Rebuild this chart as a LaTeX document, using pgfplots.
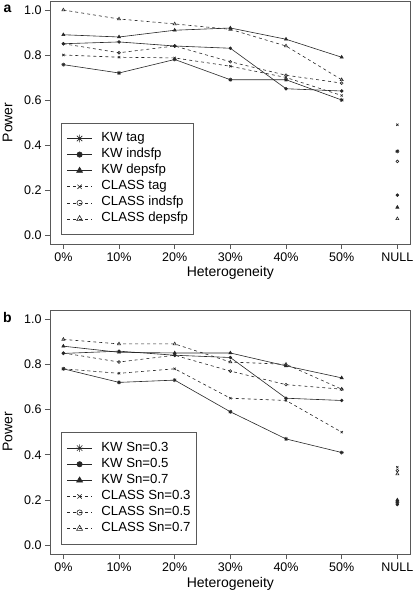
\documentclass[border=0pt]{standalone}
\usepackage{pgfplots}
\pgfplotsset{compat=1.18}
\usepackage{fontspec}
\setmainfont{Liberation Sans}

\pgfdeclareplotmark{rstar}{%
  \pgfpathmoveto{\pgfqpoint{-\pgfplotmarksize}{0pt}}\pgfpathlineto{\pgfqpoint{\pgfplotmarksize}{0pt}}%
  \pgfpathmoveto{\pgfqpoint{0pt}{-\pgfplotmarksize}}\pgfpathlineto{\pgfqpoint{0pt}{\pgfplotmarksize}}%
  \pgfpathmoveto{\pgfqpoint{-.707\pgfplotmarksize}{-.707\pgfplotmarksize}}\pgfpathlineto{\pgfqpoint{.707\pgfplotmarksize}{.707\pgfplotmarksize}}%
  \pgfpathmoveto{\pgfqpoint{-.707\pgfplotmarksize}{.707\pgfplotmarksize}}\pgfpathlineto{\pgfqpoint{.707\pgfplotmarksize}{-.707\pgfplotmarksize}}%
  \pgfusepathqstroke
}

\pgfplotsset{
  panel/.style={
    scale only axis, width=360.7pt,
    xmin=-0.24, xmax=6.24, ymin=-0.04, ymax=1.04,
    xtick={0,1,2,3,4,5,6},
    xticklabels={0\%,10\%,20\%,30\%,40\%,50\%,NULL},
    ytick={0,0.2,0.4,0.6,0.8,1},
    yticklabels={0.0,0.2,0.4,0.6,0.8,1.0},
    tick pos=left, tick align=outside, major tick length=5pt,
    axis line style={black!65, line width=0.6pt},
    tick style={black!65, line width=0.6pt},
    ticklabel style={font=\fontsize{12.5}{13}\selectfont},
    unbounded coords=jump,
    ylabel={Power}, xlabel={Heterogeneity},
    every axis y label/.style={at={(axis description cs:-0.1178,0.5)}, rotate=90, anchor=center,
      font=\fontsize{14}{15}\selectfont},
    legend cell align=left,
    legend style={at={(axis description cs:0.0305,0.4992)}, anchor=north west,
      draw=black!65, line width=0.6pt, font=\fontsize{13.2}{13.2}\selectfont,
      inner xsep=5.5pt, inner ysep=9pt, row sep=3.1pt, column sep=0pt,
      nodes={inner sep=0pt, text height=9.5pt, text depth=3.5pt},
      /tikz/every odd column/.style={column sep=9pt}},
    legend image code/.code={\draw[##1, /tikz/every mark/.append style={scale=1.9}, mark repeat=2, mark phase=2]
      plot coordinates {(0pt,0pt) (12.5pt,0pt) (25pt,0pt)};},
  },
  kw/.style={black!85, line width=0.6pt, solid},
  cls/.style={black!85, line width=0.6pt, dash pattern=on 3pt off 3pt, mark options={solid}},
}

\begin{document}
\begin{tikzpicture}
\useasboundingbox (0,0) rectangle (415pt,599pt);
\node[font=\fontsize{14}{15}\selectfont\bfseries] at (7.5pt,590pt) {a};
\node[font=\fontsize{14}{15}\selectfont\bfseries] at (7.5pt,281pt) {b};

\begin{axis}[panel, at={(50pt,355pt)}, anchor=south west, height=243pt,
  every axis x label/.style={at={(axis description cs:0.5,-0.1346)}, anchor=base,
    font=\fontsize{14}{15}\selectfont}]
\addplot[kw, mark=rstar, mark size=2pt] coordinates {(0,0.757)(1,0.72)(2,0.78)(3,0.69)(4,0.69)(5,0.60)(5.5,nan)(6,0.372)};
\addlegendentry{KW tag}
\addplot[kw, mark=*, mark size=1.4pt] coordinates {(0,0.85)(1,0.858)(2,0.84)(3,0.83)(4,0.65)(5,0.64)(5.5,nan)(6,0.177)};
\addlegendentry{KW indsfp}
\addplot[kw, mark=triangle*, mark size=1.8pt] coordinates {(0,0.89)(1,0.88)(2,0.91)(3,0.92)(4,0.87)(5,0.79)(5.5,nan)(6,0.123)};
\addlegendentry{KW depsfp}
\addplot[cls, mark=x, mark size=1.6pt] coordinates {(0,0.80)(1,0.79)(2,0.787)(3,0.75)(4,0.70)(5,0.62)(5.5,nan)(6,0.49)};
\addlegendentry{CLASS tag}
\addplot[cls, mark=o, mark size=1.4pt] coordinates {(0,0.85)(1,0.81)(2,0.84)(3,0.77)(4,0.71)(5,0.675)(5.5,nan)(6,0.327)};
\addlegendentry{CLASS indsfp}
\addplot[cls, mark=triangle, mark size=1.8pt] coordinates {(0,1.00)(1,0.96)(2,0.938)(3,0.914)(4,0.84)(5,0.69)(5.5,nan)(6,0.072)};
\addlegendentry{CLASS depsfp}
\end{axis}

\begin{axis}[panel, at={(50pt,44.7pt)}, anchor=south west, height=244.3pt,
  every axis x label/.style={at={(axis description cs:0.5,-0.1339)}, anchor=base,
    font=\fontsize{14}{15}\selectfont}]
\addplot[kw, mark=rstar, mark size=2pt] coordinates {(0,0.78)(1,0.72)(2,0.73)(3,0.59)(4,0.47)(5,0.41)(5.5,nan)(6,0.19)};
\addlegendentry{KW Sn=0.3}
\addplot[kw, mark=*, mark size=1.4pt] coordinates {(0,0.848)(1,0.858)(2,0.84)(3,0.83)(4,0.65)(5,0.64)(5.5,nan)(6,0.18)};
\addlegendentry{KW Sn=0.5}
\addplot[kw, mark=triangle*, mark size=1.8pt] coordinates {(0,0.88)(1,0.853)(2,0.85)(3,0.85)(4,0.793)(5,0.74)(5.5,nan)(6,0.20)};
\addlegendentry{KW Sn=0.7}
\addplot[cls, mark=x, mark size=1.6pt] coordinates {(0,0.78)(1,0.76)(2,0.78)(3,0.65)(4,0.64)(5,0.50)(5.5,nan)(6,0.345)};
\addlegendentry{CLASS Sn=0.3}
\addplot[cls, mark=o, mark size=1.4pt] coordinates {(0,0.85)(1,0.81)(2,0.84)(3,0.77)(4,0.71)(5,0.69)(5.5,nan)(6,0.33)};
\addlegendentry{CLASS Sn=0.5}
\addplot[cls, mark=triangle, mark size=1.8pt] coordinates {(0,0.91)(1,0.89)(2,0.89)(3,0.81)(4,0.80)(5,0.69)(5.5,nan)(6,0.315)};
\addlegendentry{CLASS Sn=0.7}
\end{axis}
\end{tikzpicture}
\end{document}
